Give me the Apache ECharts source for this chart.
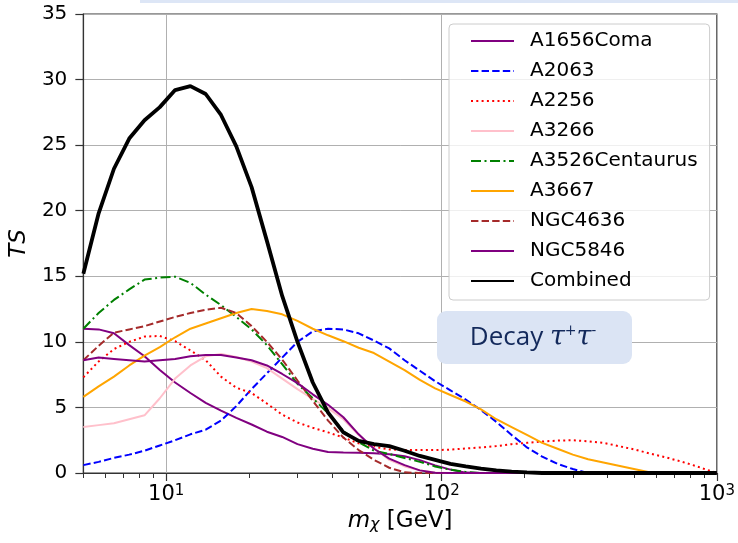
<!DOCTYPE html>
<html>
<head>
<meta charset="utf-8">
<script src="https://cdn.jsdelivr.net/npm/echarts@6/dist/echarts.min.js"></script>
<style>
html,body{margin:0;padding:0;background:#fff;}
#c{width:738px;height:543px;}
</style>
</head>
<body>
<div id="c"></div>
<script>
// Mass grid (GeV), log-spaced
const mass = [5, 5.682, 6.458, 7.339, 8.34, 9.478, 10.772, 12.242, 13.912, 15.811, 17.969, 20.421, 23.207, 26.374, 29.973, 34.063, 38.711, 43.994, 50, 56.82, 64.58, 73.39, 83.4, 94.78, 107.72, 122.42, 139.12, 158.11, 179.69, 204.21, 232.07, 263.74, 299.73, 340.63, 387.11, 439.94, 500, 568.2, 645.8, 733.9, 834, 947.8, 1000];

const seriesNames = ['A1656Coma', 'A2063', 'A2256', 'A3266', 'A3526Centaurus', 'A3667', 'NGC4636', 'NGC5846', 'Combined'];

const tsComa = [11.0,10.95,10.65,9.75,8.9,7.85,6.9,6.1,5.35,4.75,4.2,3.7,3.15,2.75,2.2,1.85,1.6,1.57,1.55,1.5,1.43,1.28,0.98,0.58,0.26,0.03,0,0,0,0,0,0,0,0,0,0,0,0,0,0,0,0,0];
const tsA2063 = [0.6,0.85,1.15,1.4,1.7,2.1,2.5,2.95,3.3,4.0,5.1,6.4,7.6,8.8,10.0,10.8,11.0,10.95,10.65,10.1,9.5,8.6,7.8,7.0,6.3,5.6,4.8,3.9,2.9,1.95,1.25,0.7,0.3,0,0,0,0,0,0,0,0,0,0];
const tsA2256 = [7.3,8.5,9.45,10.0,10.4,10.45,10.05,9.35,8.6,7.35,6.5,6.1,5.3,4.45,3.85,3.45,3.1,2.7,2.26,2.0,1.8,1.75,1.75,1.75,1.78,1.87,1.95,2.05,2.2,2.3,2.4,2.47,2.5,2.42,2.3,2.05,1.8,1.5,1.22,0.9,0.55,0.15,0];
const tsA3266 = [3.5,3.65,3.8,4.1,4.4,5.7,7.2,8.2,8.9,9.07,8.85,8.5,8.0,7.2,6.4,5.65,4.95,4.1,2.9,1.9,1.0,0.5,0.2,0.03,0,0,0,0,0,0,0,0,0,0,0,0,0,0,0,0,0,0,0];
const tsCentaurus = [11.0,12.2,13.2,14.0,14.75,14.9,14.97,14.5,13.6,12.8,11.9,10.95,9.75,8.3,6.8,5.7,4.55,3.2,2.35,1.7,1.45,1.15,0.85,0.5,0.25,0.08,0,0,0,0,0,0,0,0,0,0,0,0,0,0,0,0,0];
const tsA3667 = [5.8,6.6,7.35,8.2,8.95,9.6,10.35,11.0,11.4,11.8,12.2,12.5,12.35,12.1,11.6,11.0,10.5,10.05,9.55,9.15,8.5,7.85,7.1,6.45,5.95,5.45,4.85,4.1,3.5,2.9,2.3,1.85,1.4,1.05,0.8,0.55,0.3,0.05,0,0,0,0,0];
const tsNGC4636 = [8.6,9.7,10.7,10.95,11.2,11.55,11.9,12.2,12.45,12.6,12.2,11.2,10.0,8.65,7.05,5.5,4.0,2.7,1.75,1.0,0.4,0.05,0,0,0,0,0,0,0,0,0,0,0,0,0,0,0,0,0,0,0,0,0];
const tsNGC5846 = [8.6,8.8,8.7,8.6,8.5,8.6,8.7,8.9,9.0,9.0,8.8,8.6,8.2,7.55,6.85,6.0,5.2,4.25,2.95,1.85,1.1,0.6,0.2,0.02,0,0,0,0,0,0,0,0,0,0,0,0,0,0,0,0,0,0,0];
const tsCombined = [15.2,19.8,23.2,25.5,26.9,27.9,29.2,29.5,28.9,27.3,24.9,21.8,17.7,13.5,10.0,6.9,4.6,3.1,2.45,2.2,2.05,1.7,1.3,1.0,0.7,0.5,0.33,0.2,0.1,0.04,0,0,0,0,0,0,0,0,0,0,0,0,0];

const xMajorTicks = [10, 100, 1000];
const xMinorTicks = [5, 6, 7, 8, 9, 20, 30, 40, 50, 60, 70, 80, 90, 200, 300, 400, 500, 600, 700, 800, 900];
const yTicks = [0, 5, 10, 15, 20, 25, 30, 35];

const allTS = [tsComa, tsA2063, tsA2256, tsA3266, tsCentaurus, tsA3667, tsNGC4636, tsNGC5846, tsCombined];
const styles = [
  {color:'#800080', type:'solid', width:2},
  {color:'#0000ff', type:[7.4,3.2], width:2},
  {color:'#ff0000', type:[2,3.3], width:2},
  {color:'#ffc0cb', type:'solid', width:2},
  {color:'#008000', type:[10,3.5,2,3.5], width:2},
  {color:'#ffa500', type:'solid', width:2},
  {color:'#a52a2a', type:[7.4,3.2], width:2},
  {color:'#800080', type:'solid', width:2},
  {color:'#000000', type:'solid', width:3.8}
];

const FONT = 'DejaVu Sans';
const chart = echarts.init(document.getElementById('c'), null, {renderer:'canvas'});

const series = seriesNames.map((n, i) => ({
  name: n,
  type: 'line',
  xAxisIndex: 0,
  yAxisIndex: 0,
  symbol: 'none',
  smooth: false,
  clip: true,
  color: styles[i].color,
  lineStyle: {color: styles[i].color, type: styles[i].type, width: styles[i].width},
  data: mass.map((m, j) => [m, allTS[i][j]])
}));

const option = {
  animation: false,
  backgroundColor: '#ffffff',
  grid: {left:83, top:14, right:19, bottom:70, show:true, borderColor:'#333', borderWidth:1.2, backgroundColor:'transparent'},
  xAxis: [
    {
      type:'log', logBase:10, min:5, max:1000, position:'bottom',
      axisLine:{show:true, onZero:false, lineStyle:{color:'#333', width:1.2}},
      axisTick:{show:true, customValues:xMinorTicks, length:5, lineStyle:{color:'#333', width:1}},
      axisLabel:{
        show:true, customValues:xMajorTicks, margin:11, color:'#000',
        formatter: v => '{b|10}{s|' + Math.round(Math.log10(v)) + '}',
        rich:{
          b:{fontFamily:FONT, fontSize:21, color:'#000'},
          s:{fontFamily:FONT, fontSize:15, color:'#000', verticalAlign:'top'}
        }
      },
      splitLine:{show:false},
      name:'{i|m}{sub|χ}{n| [GeV]}',
      nameLocation:'middle', nameGap:37,
      nameTextStyle:{
        rich:{
          i:{fontFamily:FONT, fontStyle:'italic', fontSize:23, color:'#000'},
          sub:{fontFamily:FONT, fontStyle:'italic', fontSize:16, color:'#000', verticalAlign:'bottom', padding:[7,0,0,0]},
          n:{fontFamily:FONT, fontSize:23, color:'#000'}
        }
      }
    },
    {
      type:'log', logBase:10, min:5, max:1000, position:'bottom',
      axisLine:{show:false},
      axisTick:{show:true, customValues:xMajorTicks, length:8, lineStyle:{color:'#333', width:1.2}},
      axisLabel:{show:false},
      splitLine:{show:true, lineStyle:{color:'#b0b0b0', width:1}}
    }
  ],
  yAxis: {
    type:'value', min:0, max:35, interval:5,
    axisLine:{show:true, lineStyle:{color:'#333', width:1.2}},
    axisTick:{show:true, length:8, lineStyle:{color:'#333', width:1.2}},
    axisLabel:{show:true, margin:16, fontFamily:FONT, fontSize:20, color:'#000',
      customValues: yTicks},
    splitLine:{show:true, lineStyle:{color:'#b0b0b0', width:1}},
    name:'TS', nameLocation:'middle', nameGap:44,
    nameTextStyle:{fontFamily:FONT, fontStyle:'italic', fontSize:23, color:'#000'}
  },
  legend: {
    orient:'vertical', left:449, top:24,
    padding:[7,12,9,21],
    itemWidth:43, itemHeight:14, itemGap:10,
    itemStyle:{opacity:0},
    backgroundColor:'rgba(255,255,255,0.8)', borderColor:'#cccccc', borderWidth:1, borderRadius:4,
    textStyle:{fontFamily:FONT, fontSize:20, color:'#000', lineHeight:20, padding:[0,0,0,11]},
    data: seriesNames
  },
  graphic: [
    {type:'rect', z:100, shape:{x:140, y:0, width:598, height:3}, style:{fill:'#dde6f6'}},
    {type:'rect', z:100, shape:{x:437, y:311, width:195, height:53, r:9}, style:{fill:'#dbe4f4'}},
    {type:'text', z:101, x:533, y:338, style:{
      text:'{a|Decay }{t|τ}{s|+}{t|τ}{s|-}',
      align:'center', verticalAlign:'middle',
      rich:{
        a:{fontFamily:'Open Sans', fontSize:26, fill:'#13295b', color:'#13295b'},
        t:{fontFamily:'DejaVu Serif', fontStyle:'italic', fontSize:27, fill:'#13295b', color:'#13295b'},
        s:{fontFamily:'DejaVu Serif', fontSize:14, fill:'#13295b', color:'#13295b', verticalAlign:'top'}
      }
    }}
  ],
  series: series
};
chart.setOption(option);
</script>
</body>
</html>
